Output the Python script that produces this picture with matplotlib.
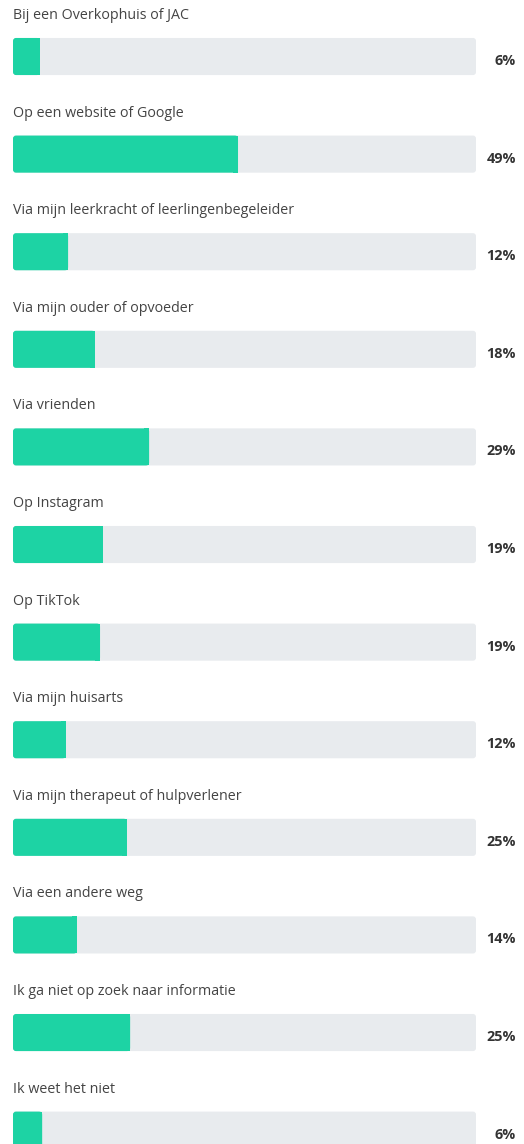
import matplotlib.pyplot as plt
from matplotlib.patches import FancyBboxPatch

labels = ['Bij een Overkophuis of JAC', 'Op een website of Google',
          'Via mijn leerkracht of leerlingenbegeleider', 'Via mijn ouder of opvoeder',
          'Via vrienden', 'Op Instagram', 'Op TikTok', 'Via mijn huisarts',
          'Via mijn therapeut of hulpverlener', 'Via een andere weg',
          'Ik ga niet op zoek naar informatie', 'Ik weet het niet']
values = [5.8, 48.6, 11.9, 17.7, 29.4, 19.4, 18.8, 11.4, 24.6, 13.8, 25.3, 6.3]
shown = ['6%', '49%', '12%', '18%', '29%', '19%', '19%', '12%', '25%', '14%', '25%', '6%']

green = '#1dd3a4'
track = '#e8ebee'
bar_h = 0.38
aspect = 0.047  # keeps corner radius round in pixels

plt.rcParams['font.family'] = ['Open Sans', 'DejaVu Sans']

fig = plt.figure(figsize=(5.24, 11.44), dpi=100)
ax = fig.add_axes([13 / 524, 0, 463 / 524, 1])
ax.set_xlim(0, 100)
ax.set_ylim(11.142, -0.579)
ax.axis('off')

for i, (lab, v, s) in enumerate(zip(labels, values, shown)):
    y0 = i - bar_h / 2
    ax.add_patch(FancyBboxPatch((0, y0), 100, bar_h, boxstyle='round,pad=0,rounding_size=0.65',
                                mutation_aspect=aspect, fc=track, ec='none'))
    ax.add_patch(FancyBboxPatch((0, y0), v, bar_h, boxstyle='round,pad=0,rounding_size=0.65',
                                mutation_aspect=aspect, fc=green, ec='none'))
    ax.barh(i, 1.0, left=v - 1.0, height=bar_h, color=green)
    ax.text(0, i - 0.42, lab, ha='left', va='center', fontsize=10.3, color='#444444')
    ax.text(108.6, i + 0.045, s, ha='right', va='center', fontsize=10.4,
            fontweight='bold', color='#333333', clip_on=False)

fig.savefig('out.png', dpi=100)
